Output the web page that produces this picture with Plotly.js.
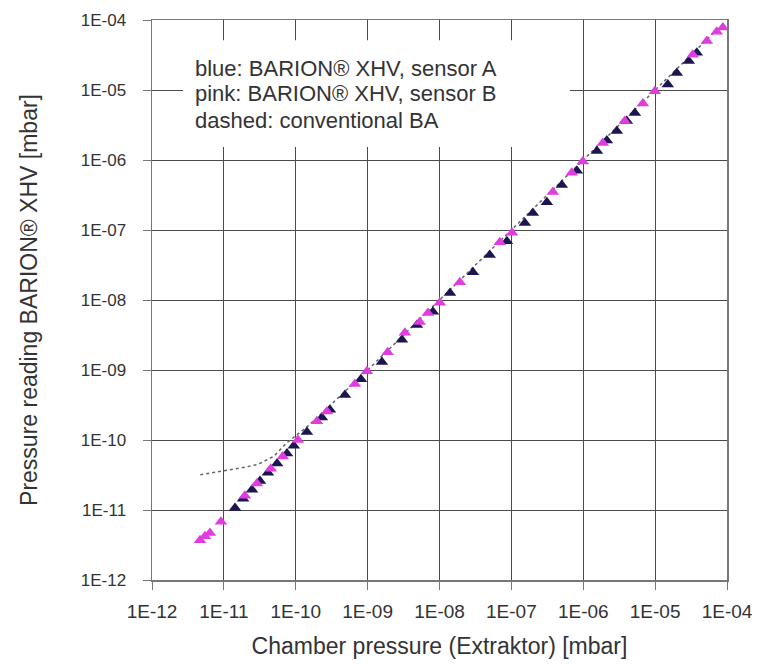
<!DOCTYPE html>
<html>
<head>
<meta charset="utf-8">
<script src="https://cdn.plot.ly/plotly-3.0.1.min.js"></script>
<style>html,body{margin:0;padding:0;background:#fff;}#chart{width:758px;height:664px;}</style>
</head>
<body>
<div id="chart"></div>
<script>
// ---- data ----
const tickVals = [1e-12, 1e-11, 1e-10, 1e-9, 1e-8, 1e-7, 1e-6, 1e-5, 1e-4];
const tickText = ['1E-12', '1E-11', '1E-10', '1E-09', '1E-08', '1E-07', '1E-06', '1E-05', '1E-04'];

// blue: sensor A
const blueX = [1.43e-11, 1.85e-11, 2.46e-11, 3.18e-11, 4.1e-11, 5.5e-11, 7.55e-11, 9.4e-11,
  1.43e-10, 2.31e-10, 2.99e-10, 4.83e-10, 8.07e-10, 1.58e-9, 3.0e-9, 4.85e-9, 8.1e-9,
  1.4e-8, 2.92e-8, 5.0e-8, 8.65e-8, 1.54e-7, 1.99e-7, 3.12e-7, 5.03e-7, 8.15e-7,
  1.55e-6, 2.13e-6, 2.93e-6, 4.04e-6, 5.22e-6, 1.5e-5, 2.0e-5, 2.94e-5, 3.8e-5];
const blueY = [1.07e-11, 1.45e-11, 1.95e-11, 2.6e-11, 3.4e-11, 4.6e-11, 6.4e-11, 8.3e-11,
  1.3e-10, 2.1e-10, 2.7e-10, 4.4e-10, 7.4e-10, 1.3e-9, 2.7e-9, 4.4e-9, 6.8e-9,
  1.26e-8, 2.5e-8, 4.4e-8, 6.9e-8, 1.26e-7, 1.75e-7, 2.5e-7, 4.4e-7, 7.0e-7,
  1.35e-6, 1.9e-6, 2.6e-6, 3.6e-6, 4.7e-6, 1.2e-5, 1.75e-5, 2.6e-5, 3.4e-5];

// pink: sensor B
const pinkX = [4.66e-12, 5.46e-12, 6.4e-12, 9.1e-12, 1.96e-11, 2.88e-11, 4.5e-11, 6.6e-11,
  1.07e-10, 1.97e-10, 2.72e-10, 6.65e-10, 9.77e-10, 1.9e-9, 3.3e-9, 5.3e-9, 6.9e-9,
  1.01e-8, 1.92e-8, 6.9e-8, 1.02e-7, 3.78e-7, 6.93e-7, 9.86e-7, 1.87e-6, 3.78e-6,
  6.75e-6, 9.9e-6, 3.34e-5, 5.24e-5, 7.2e-5, 8.75e-5];
const pinkY = [3.7e-12, 4.2e-12, 4.7e-12, 6.8e-12, 1.6e-11, 2.4e-11, 3.9e-11, 5.8e-11,
  1.0e-10, 1.85e-10, 2.55e-10, 6.3e-10, 9.6e-10, 1.8e-9, 3.4e-9, 4.85e-9, 6.5e-9,
  9.1e-9, 1.8e-8, 6.7e-8, 9.1e-8, 3.5e-7, 6.6e-7, 9.5e-7, 1.75e-6, 3.6e-6,
  6.4e-6, 9.6e-6, 3.2e-5, 5.0e-5, 6.8e-5, 7.8e-5];

// dashed: conventional BA gauge
const baX = [4.7e-12, 1e-11, 2e-11, 3e-11, 5e-11, 7.4e-11, 1e-10, 1.5e-10, 2.5e-10, 5e-10,
  1e-9, 1e-8, 1e-7, 1e-6, 1e-5, 8e-5];
const baY = [3.2e-11, 3.6e-11, 4.1e-11, 4.5e-11, 5.9e-11, 9.0e-11, 1.15e-10, 1.6e-10, 2.6e-10, 5.1e-10,
  1.0e-9, 1e-8, 1e-7, 1e-6, 1e-5, 8e-5];

const noteLines = ['blue: BARION® XHV, sensor A', 'pink: BARION® XHV, sensor B', 'dashed: conventional BA'];
const xTitle = 'Chamber pressure (Extraktor) [mbar]';
const yTitle = 'Pressure reading BARION® XHV [mbar]';

// ---- drawing ----
const FONT = 'Liberation Sans, Arial, sans-serif';
const traces = [
  {x: baX, y: baY, type: 'scatter', mode: 'lines', name: 'BA',
   line: {color: '#666', width: 1.5, dash: 'dot'}, hoverinfo: 'skip'},
  {x: blueX, y: blueY, type: 'scatter', mode: 'markers', name: 'sensor A',
   marker: {symbol: 'triangle-up', size: 11, color: '#1c1650'}},
  {x: pinkX, y: pinkY, type: 'scatter', mode: 'markers', name: 'sensor B',
   marker: {symbol: 'triangle-up', size: 11, color: '#e03ce0'}}
];

const axisCommon = {
  type: 'log', range: [-12, -4], tickvals: tickVals, ticktext: tickText,
  ticks: 'outside', ticklen: 8, tickwidth: 1, tickcolor: '#777',
  showgrid: true, gridcolor: '#4a4a4a', gridwidth: 1,
  showline: true, linecolor: '#777', linewidth: 1.5, mirror: true,
  zeroline: false
};

// note box lines: centres at 68, 94, 120 px from top; plot area spans 20..580 px
const noteY = [68, 94, 120].map(p => (580 - p) / 560);
const noteAnns = noteLines.map((t, i) => ({
  xref: 'paper', yref: 'paper', x: 0.071, y: noteY[i], xanchor: 'left', yanchor: 'middle',
  align: 'left', showarrow: false, text: t,
  font: {family: FONT, size: 22, color: '#333'}
}));

const layout = {
  width: 758, height: 664,
  margin: {l: 152, r: 31, t: 20, b: 84},
  paper_bgcolor: '#fff', plot_bgcolor: '#fff',
  showlegend: false,
  xaxis: Object.assign({}, axisCommon, {
    ticklabelstandoff: 6,
    tickfont: {family: FONT, size: 19, color: '#333'},
    title: {text: xTitle, font: {family: FONT, size: 23, color: '#333'}, standoff: 16}
  }),
  yaxis: Object.assign({}, axisCommon, {
    ticklabelstandoff: 13,
    tickfont: {family: FONT, size: 17, color: '#333'},
    title: {text: yTitle, font: {family: FONT, size: 23, color: '#333'}, standoff: 36}
  }),
  shapes: [{
    type: 'rect', xref: 'paper', yref: 'paper', layer: 'above',
    x0: 0.054, x1: 0.727, y0: 0.773, y1: 0.964,
    fillcolor: '#fff', line: {width: 0}
  }],
  annotations: noteAnns
};

Plotly.newPlot('chart', traces, layout, {staticPlot: true, displayModeBar: false});
</script>
</body>
</html>
